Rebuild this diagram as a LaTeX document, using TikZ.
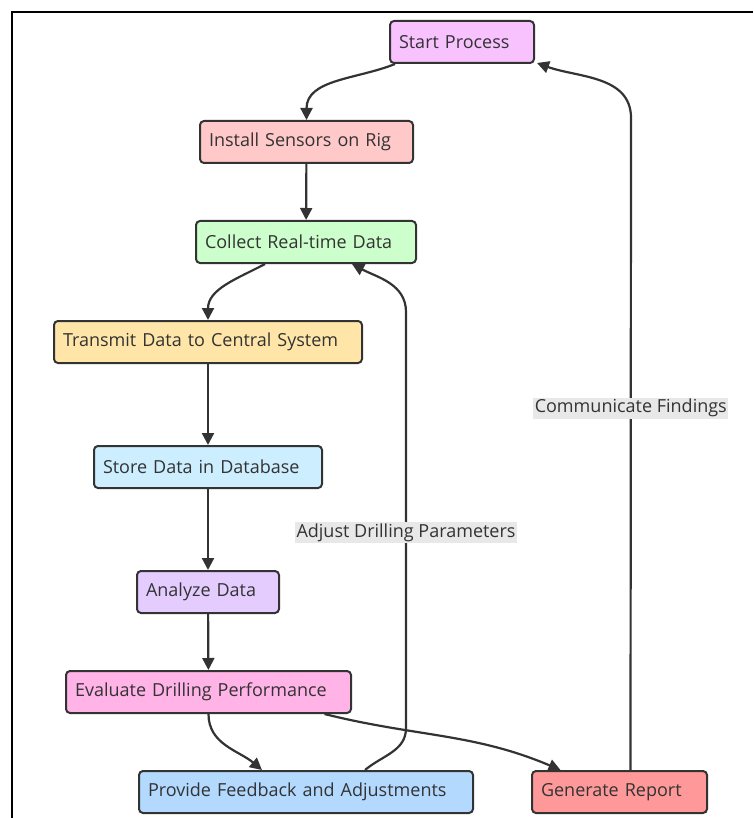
\documentclass[tikz,border=0pt]{standalone}
\usepackage{fontspec}
\setmainfont{Open Sans}
\usetikzlibrary{arrows.meta}
\definecolor{ink}{HTML}{333333}
\definecolor{cStart}{HTML}{F8C2FF}
\definecolor{cInstall}{HTML}{FFC9C9}
\definecolor{cCollect}{HTML}{CCFFCC}
\definecolor{cTransmit}{HTML}{FFE6A8}
\definecolor{cStore}{HTML}{CCEEFF}
\definecolor{cAnalyze}{HTML}{E4CCFF}
\definecolor{cEvaluate}{HTML}{FFB3E6}
\definecolor{cFeedback}{HTML}{B3D9FF}
\definecolor{cReport}{HTML}{FF9999}
\definecolor{lblbg}{HTML}{E8E8E8}
\begin{document}
\begin{tikzpicture}[x=1pt,y=-1pt,
    box/.style={draw=ink, line width=2pt, rounded corners=4pt, minimum height=42pt,
        inner xsep=9pt, align=left, text=ink, font=\fontsize{18}{22}\selectfont},
    flow/.style={draw=ink, line width=2.2pt, -{Triangle[length=12pt,width=12pt]}},
    lbl/.style={fill=lblbg, text=ink, inner sep=1.5pt, font=\fontsize{18}{22}\selectfont}]
        \useasboundingbox (0,0) rectangle (753,818);
        %% Frame
        \draw[line width=2pt] (12,818) -- (12,12) -- (753,12);
        %% Steps
        \node[box, fill=cStart, text width=126pt] (start) at (462,42) {Start Process};
        \node[box, fill=cInstall, text width=195pt] (install) at (306.5,142) {Install Sensors on Rig};
        \node[box, fill=cCollect, text width=202pt] (collect) at (306,242) {Collect Real-time Data};
        \node[box, fill=cTransmit, text width=290pt] (transmit) at (208,342) {Transmit Data to Central System};
        \node[box, fill=cStore, text width=210pt] (store) at (208,467) {Store Data in Database};
        \node[box, fill=cAnalyze, text width=124pt] (analyze) at (208,592) {Analyze Data};
        \node[box, fill=cEvaluate, text width=267pt] (evaluate) at (208.5,692) {Evaluate Drilling Performance};
        \node[box, fill=cFeedback, text width=316pt] (feedback) at (306,792) {Provide Feedback and Adjustments};
        \node[box, fill=cReport, text width=157pt] (report) at (619.5,792) {Generate Report};
        %% Connectors
        \draw[flow] ([xshift=-67]start.south) to[out=-158,in=90] (install.north);
        \draw[flow] (install) -- (collect);
        \draw[flow] ([xshift=-41]collect.south) to[out=-152,in=90] (transmit.north);
        \draw[flow] (transmit) -- (store);
        \draw[flow] (store) -- (analyze);
        \draw[flow] (analyze) -- (evaluate);
        \draw[flow] (evaluate.south) to[out=-90,in=140] ([xshift=-44]feedback.north);
        \draw[flow] ([xshift=116]evaluate.south) to[out=-14,in=157] ([xshift=-59]report.north);
        \draw[flow] ([xshift=59]feedback.north) to[out=40,in=-90] (406,728)
            -- node[lbl, pos=0.47] {Adjust Drilling Parameters} (406,312)
            to[out=90,in=-28] ([xshift=46]collect.south);
        \draw[flow] ([xshift=11]report.north) -- node[lbl, pos=0.555] {Communicate Findings} (631,118)
            to[out=90,in=-20] ([xshift=2,yshift=1]start.south east);
\end{tikzpicture}
\end{document}
